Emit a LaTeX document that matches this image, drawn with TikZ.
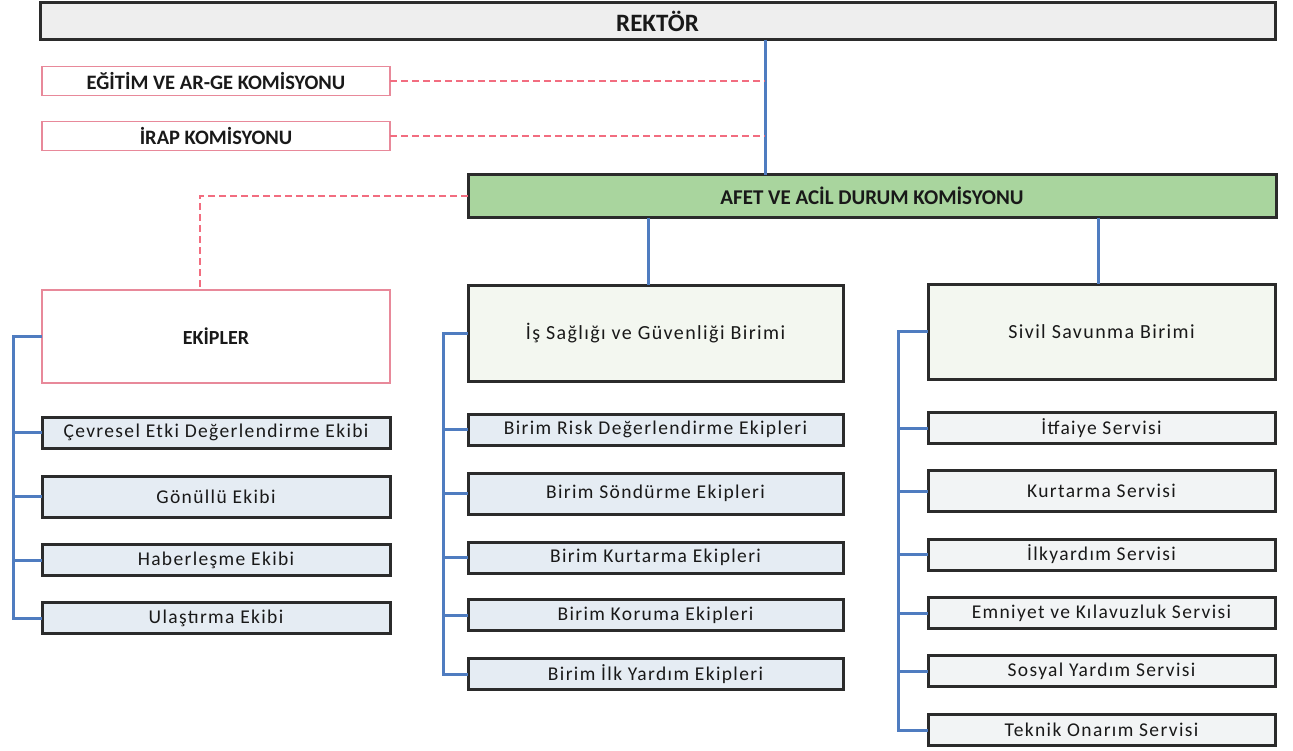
\documentclass[tikz,border=0pt]{standalone}
\usepackage{fontspec}
\setmainfont{Carlito}[LetterSpace=7]
\newfontfamily\boldf{Carlito}
\definecolor{bluel}{HTML}{4F7CC0}
\definecolor{pinkb}{HTML}{E8899A}
\definecolor{pinkd}{HTML}{F26D80}
\definecolor{rekfill}{HTML}{EEEEEE}
\definecolor{afetfill}{HTML}{A9D59E}
\definecolor{unitfill}{HTML}{F3F7F0}
\definecolor{teamfill}{HTML}{E5ECF3}
\definecolor{servfill}{HTML}{F2F4F5}
\definecolor{edge}{HTML}{2B2B2B}
\begin{document}
\begin{tikzpicture}[x=1pt,y=-1pt,
  every node/.style={inner sep=0pt, outer sep=0pt, text=black!90},
  hdr/.style={draw=edge, line width=3pt, font=\boldf\bfseries\fontsize{21}{24}\selectfont},
  pbox/.style={draw=pinkb, line width=1.5pt, fill=white, font=\boldf\bfseries\fontsize{20.5}{24}\selectfont},
  unit/.style={draw=edge, line width=3pt, fill=unitfill, font=\fontsize{20}{24}\selectfont},
  team/.style={draw=edge, line width=3pt, fill=teamfill, minimum height=31pt, font=\fontsize{19.5}{24}\selectfont},
  serv/.style={draw=edge, line width=3pt, fill=servfill, minimum height=31pt, font=\fontsize{19.5}{24}\selectfont},
  bus/.style={draw=bluel, line width=3pt},
  pinkdash/.style={draw=pinkd, line width=1.6pt, dash pattern=on 7pt off 4pt}
]
\useasboundingbox (0,0) rectangle (1293,750);

% top
\node[hdr, fill=rekfill, minimum width=1235pt, minimum height=37pt, font=\boldf\bfseries\fontsize{25}{28}\selectfont] (rek) at (657.5,21) {REKTÖR};
\node[hdr, fill=afetfill, minimum width=808pt, minimum height=43pt] (afet) at (872,196) {AFET VE ACİL DURUM KOMİSYONU};

\node[pbox, minimum width=348pt, minimum height=29pt] (egit) at (216,81) {EĞİTİM VE AR-GE KOMİSYONU};
\node[pbox, minimum width=348pt, minimum height=29pt] (irap) at (216,136) {İRAP KOMİSYONU};

\node[pbox, minimum width=348pt, minimum height=93pt, font=\boldf\bfseries\fontsize{20}{24}\selectfont] (ekip) at (216,336.5) {EKİPLER};

\node[unit, minimum width=375pt, minimum height=96pt] (isg) at (655.5,333) {İş Sağlığı ve Güvenliği Birimi};
\node[unit, minimum width=347pt, minimum height=95pt] (sivil) at (1101.5,331.5) {Sivil Savunma Birimi};

% left teams
\node[team, minimum width=348pt] (cev) at (216,432.5) {Çevresel Etki Değerlendirme Ekibi};
\node[team, minimum width=348pt, minimum height=41pt] (gon) at (216,496.5) {Gönüllü Ekibi};
\node[team, minimum width=348pt] (hab) at (216,560) {Haberleşme Ekibi};
\node[team, minimum width=348pt] (ula) at (216,618) {Ulaştırma Ekibi};

% middle teams
\node[team, minimum width=375pt] (risk) at (655.5,429.5) {Birim Risk Değerlendirme Ekipleri};
\node[team, minimum width=375pt, minimum height=41pt] (son) at (655.5,493.5) {Birim Söndürme Ekipleri};
\node[team, minimum width=375pt] (kurt) at (655.5,557.5) {Birim Kurtarma Ekipleri};
\node[team, minimum width=375pt] (kor) at (655.5,615) {Birim Koruma Ekipleri};
\node[team, minimum width=375pt] (ilk) at (655.5,674) {Birim İlk Yardım Ekipleri};

% right services
\node[serv, minimum width=347pt] (itf) at (1101.5,428) {İtfaiye Servisi};
\node[serv, minimum width=347pt, minimum height=41pt] (kser) at (1101.5,491) {Kurtarma Servisi};
\node[serv, minimum width=347pt] (ilks) at (1101.5,554.5) {İlkyardım Servisi};
\node[serv, minimum width=347pt] (emn) at (1101.5,613) {Emniyet ve Kılavuzluk Servisi};
\node[serv, minimum width=347pt] (sos) at (1101.5,671) {Sosyal Yardım Servisi};
\node[serv, minimum width=347pt] (tek) at (1101.5,730) {Teknik Onarım Servisi};

% connectors
\coordinate (vline) at (765,0);
\coordinate (vmid) at (648,0);
\coordinate (vright) at (1098,0);
\draw[bus] (rek.south -| vline) -- (afet.north -| vline);
\draw[bus] (afet.south -| vmid) -- (isg.north -| vmid);
\draw[bus] (afet.south -| vright) -- (sivil.north -| vright);

\draw[pinkdash] (egit.east) -- (egit.east -| vline);
\draw[pinkdash] (irap.east) -- (irap.east -| vline);
\coordinate (dleft) at (200,0);
\draw[pinkdash] (afet.west) -| (ekip.north -| dleft);

% left bus
\draw[bus] (ekip.west) -| ([xshift=-29pt]ula.west) -- (ula.west);
\foreach \n in {cev,gon,hab} \draw[bus] (\n.west) -- ++(-29,0);
% middle bus
\draw[bus] (isg.west) -| ([xshift=-25pt]ilk.west) -- (ilk.west);
\foreach \n in {risk,son,kurt,kor} \draw[bus] (\n.west) -- ++(-25,0);
% right bus
\draw[bus] (sivil.west) -| ([xshift=-30pt]tek.west) -- (tek.west);
\foreach \n in {itf,kser,ilks,emn,sos} \draw[bus] (\n.west) -- ++(-30,0);
\end{tikzpicture}
\end{document}
